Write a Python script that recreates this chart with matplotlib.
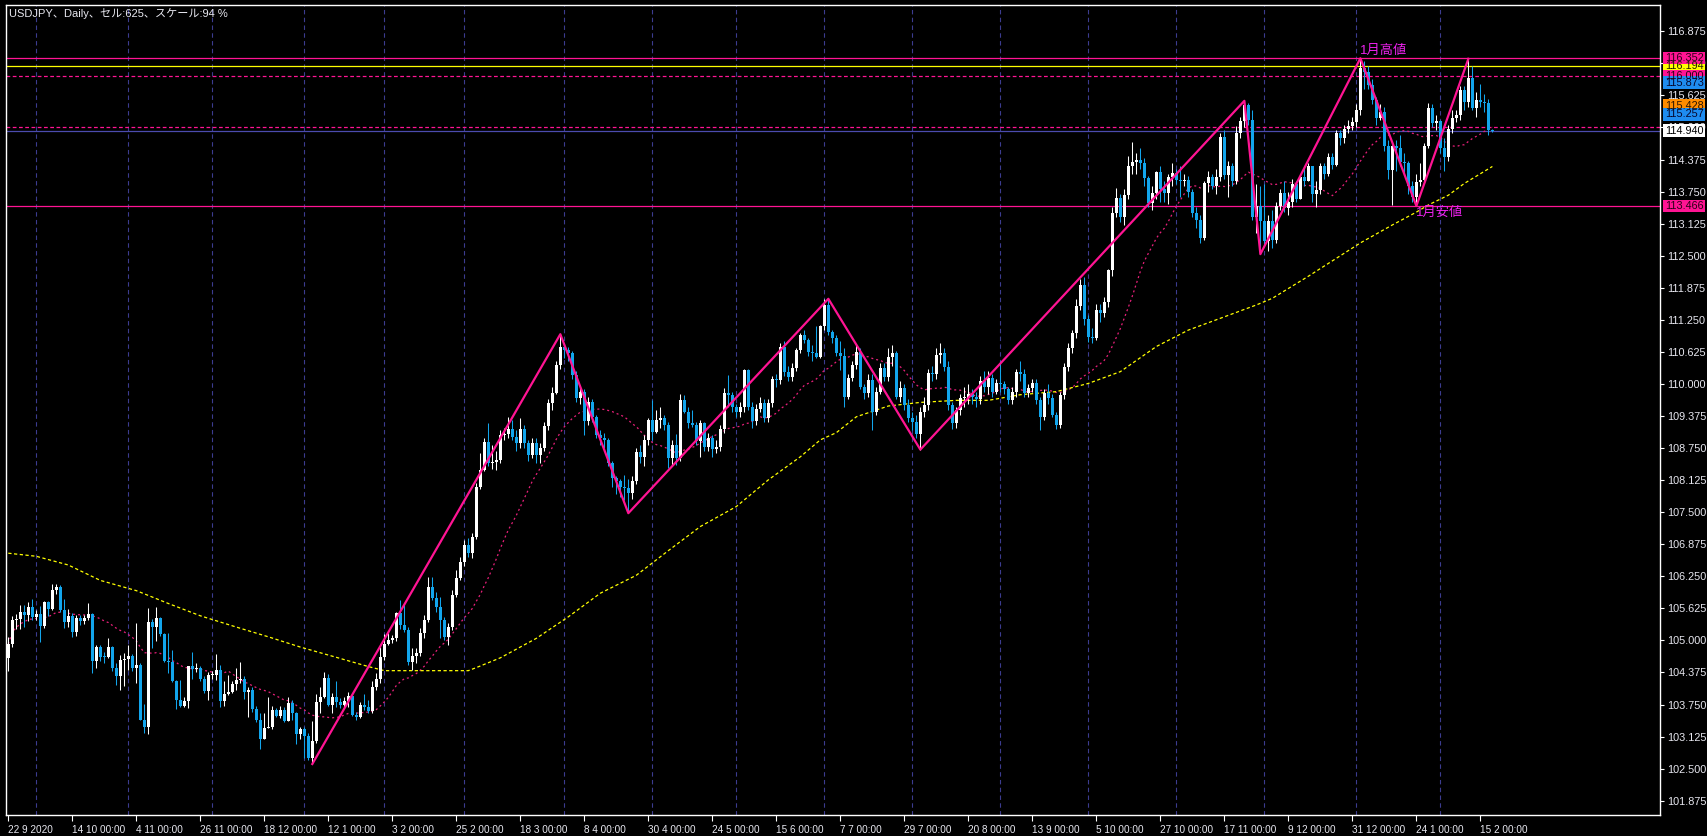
import numpy as np
import pandas as pd
import matplotlib
matplotlib.use("Agg")
import matplotlib.pyplot as plt
from matplotlib.patches import Rectangle
from matplotlib.transforms import blended_transform_factory

plt.rcParams['font.family'] = ['Liberation Sans', 'Noto Sans CJK JP', 'DejaVu Sans']

# ---------------- data ----------------
first_open = 104.65
close = [
    104.93,105.40,105.42,105.55,105.50,105.66,105.45,105.52,105.28,105.75,
    105.61,105.98,106.04,105.59,105.35,105.48,105.17,105.43,105.37,105.43,
    105.52,104.59,104.88,104.68,104.67,104.87,104.47,104.31,104.61,104.64,
    104.70,104.46,104.53,103.45,103.32,105.35,105.26,105.43,105.13,104.59,
    104.57,104.20,103.83,103.73,103.82,104.50,104.44,104.47,104.25,104.02,
    104.33,104.33,104.42,103.82,103.96,104.00,104.15,104.22,104.25,104.00,
    104.04,103.66,103.45,103.08,103.30,103.31,103.64,103.53,103.64,103.42,
    103.77,103.58,103.18,103.27,103.14,102.70,103.04,103.80,103.90,104.27,
    103.74,103.90,103.79,103.74,103.82,103.92,103.54,103.50,103.74,103.71,
    103.63,104.10,104.25,104.67,104.93,105.00,105.05,105.53,105.30,105.20,
    104.57,104.70,104.75,105.14,105.40,106.05,105.82,105.65,105.40,105.07,
    105.27,105.88,106.21,106.53,106.86,106.70,107.02,108.00,108.33,108.87,
    108.45,108.48,108.52,109.00,109.02,109.13,108.97,108.84,109.13,108.84,
    108.62,108.84,108.62,108.75,109.18,109.62,109.83,110.37,110.73,110.66,
    110.60,110.17,109.72,109.85,109.27,109.65,109.36,109.00,108.94,108.90,
    108.45,108.16,108.10,107.99,107.97,107.87,108.10,108.68,108.58,108.90,
    109.30,109.07,109.30,109.33,109.20,108.55,108.80,108.55,109.69,109.46,
    109.23,109.20,108.88,109.23,108.78,108.94,108.74,108.77,109.13,109.82,
    109.79,109.56,109.46,109.56,110.28,109.56,109.27,109.52,109.62,109.33,
    109.62,110.09,110.07,110.72,110.24,110.14,110.32,110.66,110.95,110.86,
    110.63,110.60,110.53,111.12,111.54,111.02,110.90,110.60,110.55,109.75,
    110.11,110.37,110.63,109.95,109.82,110.08,109.46,109.85,110.31,110.14,
    110.53,110.60,109.75,109.92,109.59,109.33,109.25,109.03,109.46,109.59,
    110.21,110.20,110.56,110.60,110.34,109.59,109.23,109.49,109.72,109.72,
    109.80,109.75,109.70,110.05,109.95,110.11,109.85,110.01,110.00,109.91,
    109.69,109.85,110.24,110.20,109.82,109.92,110.01,109.69,109.36,109.82,
    109.72,109.40,109.20,109.79,110.34,110.70,110.99,111.51,111.93,111.26,
    110.92,110.90,111.45,111.38,111.60,112.22,113.33,113.62,113.25,113.68,
    114.24,114.33,114.37,114.30,114.01,113.52,113.72,114.14,113.80,113.72,
    114.04,114.11,113.98,113.95,113.97,113.75,113.33,113.20,112.84,113.91,
    114.04,113.85,114.04,114.82,114.08,114.25,113.95,114.89,115.12,115.44,
    115.15,113.26,113.47,113.17,112.79,113.18,112.80,113.47,113.72,113.43,
    113.55,113.90,113.60,114.04,113.95,114.25,113.70,113.78,114.24,114.10,
    114.43,114.27,114.89,114.79,114.98,115.02,115.10,115.34,116.15,116.08,
    115.83,115.54,115.18,115.30,114.63,114.17,114.63,114.60,114.33,114.30,
    113.85,113.65,113.94,113.97,114.63,115.38,115.08,115.12,114.60,114.43,
    114.98,115.18,115.25,115.73,115.50,115.96,115.38,115.54,115.50,115.47,
    114.95,114.94]
high = [
    105.07,105.48,105.52,105.69,105.69,105.74,105.80,105.60,105.67,105.77,
    105.77,106.10,106.10,106.08,105.80,105.61,105.53,105.50,105.50,105.50,
    105.73,105.53,104.91,104.92,104.78,105.04,104.90,104.55,104.72,104.75,
    104.91,104.74,105.33,104.55,103.76,105.63,105.42,105.66,105.45,105.15,
    105.14,104.81,104.23,104.23,103.89,104.50,104.78,104.55,104.50,104.30,
    104.39,104.40,104.73,104.52,104.20,104.33,104.20,104.46,104.57,104.30,
    104.10,104.09,103.72,103.58,103.58,103.90,103.72,103.68,103.72,103.70,
    103.90,103.84,103.61,103.32,103.32,103.19,103.43,103.95,104.10,104.38,
    104.34,103.97,104.21,103.87,103.90,104.00,103.94,103.60,103.80,103.96,
    103.84,104.21,104.36,104.88,105.13,105.14,105.10,105.56,105.79,105.69,
    105.26,104.85,104.85,105.25,105.50,106.24,106.24,105.95,105.85,105.45,
    105.33,105.98,106.37,106.63,106.95,107.00,107.10,108.06,108.65,108.95,
    109.23,108.80,108.70,109.10,109.15,109.36,109.30,109.10,109.33,109.20,
    108.90,108.95,108.95,108.85,109.25,109.70,109.95,110.45,110.97,110.80,
    110.72,110.65,110.25,109.95,109.90,109.75,109.70,109.40,109.10,109.05,
    108.95,108.50,108.20,108.15,108.22,108.15,108.20,108.75,108.80,109.00,
    109.33,109.69,109.49,109.55,109.40,109.25,108.90,109.03,109.80,109.78,
    109.55,109.49,109.25,109.30,109.25,109.05,109.00,108.90,109.20,109.92,
    110.18,109.85,109.60,109.65,110.30,110.30,109.65,109.60,109.75,109.70,
    109.70,110.15,110.20,110.80,110.83,110.35,110.40,110.70,111.00,111.05,
    110.90,110.75,111.12,111.15,111.65,111.66,111.05,110.95,110.83,110.70,
    110.20,110.45,110.75,110.70,110.00,110.20,110.20,109.95,110.40,110.40,
    110.70,110.75,110.65,110.05,110.00,109.70,109.45,109.40,109.55,109.75,
    110.30,110.35,110.70,110.80,110.70,110.45,109.65,109.55,109.80,109.95,
    110.00,109.90,109.85,110.15,110.25,110.25,110.20,110.10,110.45,110.05,
    109.95,109.95,110.30,110.45,110.30,110.00,110.10,110.10,109.75,109.90,
    110.00,109.80,109.45,109.85,110.40,110.80,111.05,111.65,112.05,112.08,
    111.35,111.10,111.55,111.55,111.70,112.25,113.45,113.82,113.70,113.80,
    114.45,114.72,114.50,114.60,114.40,114.05,113.85,114.15,114.25,113.95,
    114.10,114.30,114.20,114.25,114.10,114.05,113.80,113.45,113.30,113.95,
    114.15,114.10,114.20,114.90,114.95,114.35,114.30,115.02,115.20,115.52,
    115.48,115.35,113.90,113.85,113.90,113.30,113.40,113.55,113.80,113.95,
    113.75,114.00,113.95,114.10,114.25,114.30,114.25,113.95,114.30,114.30,
    114.50,114.50,114.95,114.95,115.05,115.15,115.20,115.45,116.35,116.30,
    116.20,115.95,115.60,115.45,115.40,114.75,114.65,114.75,114.85,114.50,
    114.35,113.95,114.10,114.30,114.70,115.47,115.45,115.25,115.15,114.80,
    115.05,115.35,115.35,115.80,115.80,116.34,116.20,115.70,115.85,115.65,
    115.55,114.98]
low = [
    104.41,104.88,105.22,105.22,105.26,105.37,105.40,105.40,104.96,105.24,
    105.48,105.59,105.91,105.55,105.25,105.27,105.06,105.08,105.30,105.32,
    105.40,104.36,104.47,104.60,104.55,104.65,104.41,104.13,104.03,104.11,
    104.43,104.40,104.16,103.44,103.20,103.18,104.85,104.99,105.09,104.57,
    104.37,104.18,103.66,103.71,103.71,103.68,104.24,104.38,104.20,103.97,
    103.84,104.25,104.23,103.70,103.72,103.94,103.98,104.03,104.17,103.85,
    103.51,103.61,103.40,102.88,103.07,103.29,103.27,103.51,103.48,103.40,
    103.42,103.45,102.98,103.07,102.70,102.67,102.59,103.00,103.58,103.87,
    103.73,103.58,103.71,103.68,103.70,103.70,103.52,103.44,103.48,103.65,
    103.58,103.59,104.03,104.17,104.62,104.91,104.95,104.98,105.22,105.17,
    104.52,104.43,104.55,104.70,105.05,105.35,105.78,105.55,105.04,105.00,
    104.91,105.20,105.85,106.18,106.45,106.62,106.60,106.98,107.95,108.30,
    108.40,108.35,108.33,108.45,108.90,108.95,108.90,108.70,108.75,108.75,
    108.50,108.55,108.45,108.45,108.70,109.10,109.50,109.80,110.30,110.50,
    110.45,110.10,109.65,109.60,109.00,109.20,109.25,108.95,108.80,108.75,
    108.40,108.00,107.85,107.80,107.74,107.48,107.75,108.05,108.45,108.40,
    108.80,108.90,109.04,109.15,109.10,108.36,108.40,108.42,108.50,109.43,
    109.15,109.17,108.80,108.58,108.70,108.70,108.58,108.65,108.70,109.05,
    109.56,109.45,109.35,109.35,109.45,109.50,109.15,109.20,109.45,109.25,
    109.25,109.55,109.95,110.00,110.15,110.05,110.05,110.25,110.60,110.80,
    110.55,110.45,110.50,110.50,111.05,110.95,110.80,110.55,110.27,109.56,
    109.70,110.05,110.30,109.90,109.70,109.75,109.10,109.40,109.80,110.05,
    110.05,110.35,109.70,109.65,109.50,109.25,109.10,108.95,108.72,109.35,
    109.50,110.05,110.10,110.40,110.25,109.50,109.12,109.15,109.40,109.55,
    109.60,109.60,109.55,109.60,109.85,109.80,109.75,109.80,109.85,109.80,
    109.60,109.60,109.75,110.05,109.75,109.75,109.85,109.60,109.10,109.30,
    109.60,109.35,109.12,109.15,109.70,110.25,110.60,110.90,111.45,111.15,
    110.82,110.80,110.85,111.20,111.30,111.50,112.10,113.25,113.15,113.10,
    113.60,114.10,114.10,114.20,113.85,113.45,113.40,113.60,113.55,113.55,
    113.50,113.85,113.90,113.65,113.85,113.65,113.25,113.05,112.75,112.80,
    113.75,113.80,113.70,113.95,114.00,113.65,113.85,113.90,114.80,115.00,
    115.05,113.20,112.95,112.53,112.70,112.60,112.65,112.75,113.40,113.35,
    113.30,113.45,113.55,113.60,113.85,113.95,113.55,113.45,113.70,114.00,
    114.05,114.20,114.25,114.65,114.70,114.90,114.95,115.00,115.25,115.75,
    115.75,115.45,115.05,115.15,114.55,114.00,113.48,114.15,114.25,114.10,
    113.70,113.55,113.47,113.85,113.95,114.60,115.00,114.95,114.50,114.15,
    114.35,114.90,115.10,115.15,115.35,115.40,115.35,115.20,115.40,115.30,
    114.85,114.92]

zigzag_bars = [76, 138, 155, 205, 228, 309, 313, 338, 352, 365]
zigzag_prices = [102.59, 110.97, 107.48, 111.66, 108.72, 115.52, 112.53, 116.35, 113.47, 116.34]

ma_short_period = 21
ma_long_bars = [0, 7, 15, 23, 32, 40, 48, 57, 65, 73, 82, 90, 94, 102, 115, 117, 123, 132, 140,
                148, 157, 165, 173, 182, 190, 198, 203, 207, 212, 220, 228, 237, 245, 253, 262,
                270, 278, 287, 295, 303, 312, 316, 325, 338, 346, 352, 355, 360, 364, 371]
ma_long_vals = [106.70, 106.64, 106.47, 106.17, 105.97, 105.72, 105.48, 105.26, 105.07, 104.87,
                104.67, 104.49, 104.41, 104.41, 104.41, 104.47, 104.66, 105.04, 105.46, 105.92,
                106.27, 106.75, 107.22, 107.61, 108.13, 108.58, 108.91, 109.05, 109.36, 109.57,
                109.64, 109.68, 109.68, 109.79, 109.85, 110.01, 110.24, 110.73, 111.05, 111.28,
                111.54, 111.67, 112.10, 112.75, 113.10, 113.35, 113.49, 113.68, 113.91, 114.24]

month_sep_bars = [7, 30, 51, 74, 94, 114, 139, 161, 182, 204, 226, 248, 270, 292, 314, 337, 358]
x_labels = ["22 9 2020", "14 10 00:00", "4 11 00:00", "26 11 00:00", "18 12 00:00", "12 1 00:00",
            "3 2 00:00", "25 2 00:00", "18 3 00:00", "8 4 00:00", "30 4 00:00", "24 5 00:00",
            "15 6 00:00", "7 7 00:00", "29 7 00:00", "20 8 00:00", "13 9 00:00", "5 10 00:00",
            "27 10 00:00", "17 11 00:00", "9 12 00:00", "31 12 00:00", "24 1 00:00", "15 2 00:00"]
x_label_bars = [16 * k for k in range(len(x_labels))]

# horizontal levels: price, colour, style
level_prices = [116.352, 116.194, 116.000, 115.000, 114.940, 113.466]
level_colors = ['#FF1493', '#FFFF00', '#FF1493', '#FF1493', '#4B4BAE', '#FF1493']
level_styles = ['-', '-', (0, (3, 2)), (0, (3, 2)), '-', '-']

# right-side price tags, in drawing order
tag_prices = [116.194, 116.352, 116.000, 115.873, 115.428, 115.257, 114.940, 113.466]
tag_bg = ['#FFFF00', '#FF1493', '#FF1493', '#1E8CF0', '#FF8C00', '#1E8CF0', '#FFFFFF', '#FF1493']
tag_fg = ['#202000', '#2A0016', '#2A0016', '#06062A', '#2A1400', '#06062A', '#000000', '#2A0016']

title = "USDJPY、Daily、セル:625、スケール:94 %"

# ---------------- figure ----------------
W, H = 1707, 836
fig = plt.figure(figsize=(W / 100, H / 100), dpi=100, facecolor='black')
L, R, T, B = 6, 1660, 5, 815
ax = fig.add_axes([L / W, 1 - B / H, (R - L) / W, (B - T) / H])
ax.set_facecolor('black')
ax.set_xlim(-0.575, 412.9)
ax.set_ylim(101.596, 117.388)
for s in ax.spines.values():
    s.set_color('white')
    s.set_linewidth(1.0)

c = np.array(close)
o = np.r_[first_open, c[:-1]]
hi = np.maximum(np.array(high), np.maximum(o, c))
lo = np.minimum(np.array(low), np.minimum(o, c))
x = np.arange(len(c))
bull = c >= o
bull_col, bear_col = '#FFFFFF', '#12A5EC'

# month separators
for b in month_sep_bars:
    ax.axvline(b, color='#3C3C90', lw=0.8, ls=(0, (4, 3)), zorder=0.5)

# horizontal levels
for p, col, st in zip(level_prices, level_colors, level_styles):
    ax.axhline(p, color=col, lw=0.9, ls=st, zorder=1)

# moving averages
ma_short = pd.Series(c).rolling(ma_short_period, min_periods=1).mean().values
ax.plot(x, ma_short, color='#E8207A', lw=0.9, ls=(0, (1.6, 2.4)), zorder=2)
ax.plot(ma_long_bars, ma_long_vals, color='#FFFF00', lw=0.9, ls=(0, (2.6, 2.0)), zorder=2)

# candles
for mask, col in ((bull, bull_col), (~bull, bear_col)):
    ax.vlines(x[mask], lo[mask], hi[mask], color=col, lw=0.75, zorder=3)
    body_lo = np.minimum(o, c)[mask]
    body_h = np.maximum(np.abs(c - o)[mask], 0.02)
    ax.bar(x[mask], body_h, bottom=body_lo, width=0.75, color=col, linewidth=0, zorder=3)

# zigzag
ax.plot(zigzag_bars, zigzag_prices, color='#FF1493', lw=1.6, zorder=4)

# annotations
ax.text(zigzag_bars[7], zigzag_prices[7] + 0.03, "1月高値", color='#EE22EE', fontsize=9.5,
        ha='left', va='bottom', zorder=5)
ax.text(zigzag_bars[8], level_prices[5] - 0.02, "1月安値", color='#EE22EE', fontsize=9.5,
        ha='left', va='top', zorder=5)

# y axis
yt = np.arange(101.875, 116.876, 0.625)
ax.yaxis.tick_right()
ax.set_yticks(yt)
ax.set_yticklabels([f"{v:.3f}" for v in yt])
ax.tick_params(axis='y', colors='white', length=3, width=0.8, pad=2, labelsize=7.8,
               labelcolor='#E8E8F0')

# x axis
ax.set_xticks(x_label_bars)
ax.set_xticklabels(x_labels, ha='left')
ax.tick_params(axis='x', colors='white', length=4, width=0.8, pad=3, labelsize=7.2,
               labelcolor='#E8E8F0')

# price tags on the right
tr = blended_transform_factory(ax.transAxes, ax.transData)
x0 = (1663 - L) / (R - L)
wtag = 42 / (R - L)
htag = 12.5 / ((B - T) / (117.388 - 101.596))
for p, bg, fg in zip(tag_prices, tag_bg, tag_fg):
    ax.add_patch(Rectangle((x0, p - htag / 2), wtag, htag, transform=tr, facecolor=bg,
                           edgecolor='none', clip_on=False, zorder=10))
    ax.text(x0 + 2 / (R - L), p, f"{p:.3f}", transform=tr, color=fg, fontsize=7.8,
            ha='left', va='center', clip_on=False, zorder=11)

fig.text(9 / W, 1 - 14 / H, title, color='#E8E8F0', fontsize=8, ha='left', va='center')

fig.savefig('out.png', dpi=100, facecolor='black')
